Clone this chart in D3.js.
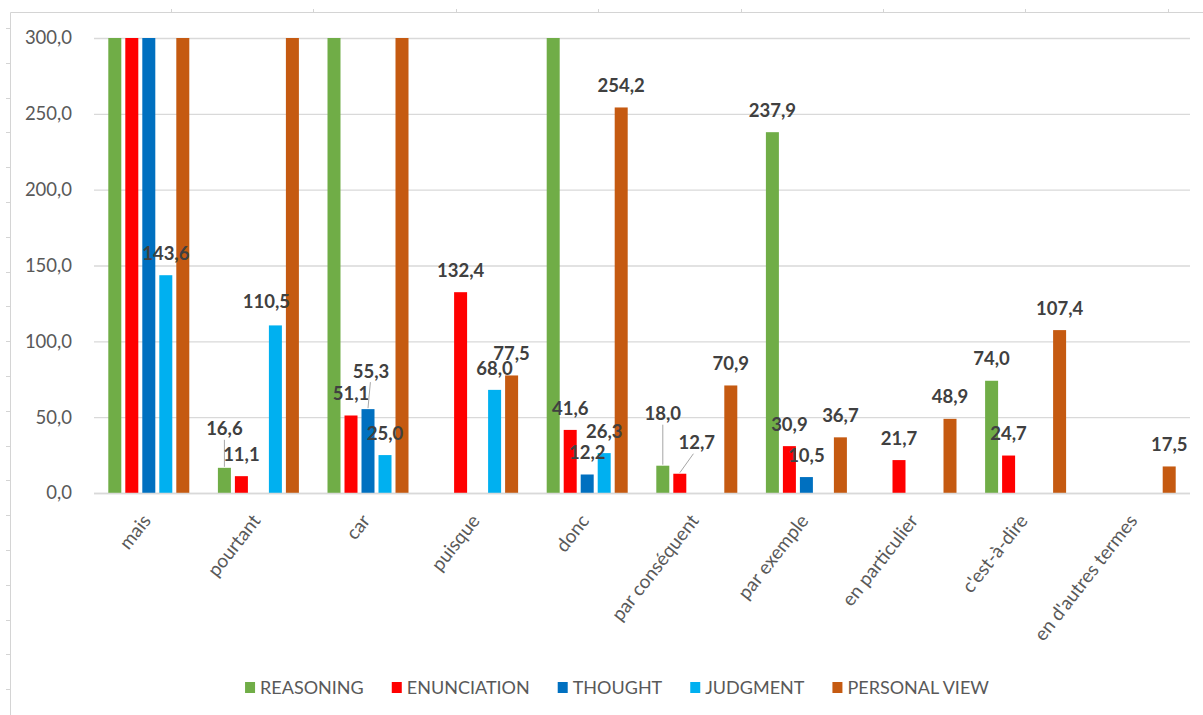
<!DOCTYPE html>
<html>
<head>
<meta charset="utf-8">
<script src="https://cdn.jsdelivr.net/npm/d3@7"></script>
<style>
  body { margin: 0; background: #fff; }
  svg { display: block; font-family: Lato, "Liberation Sans", sans-serif; }
</style>
</head>
<body>
<div id="chart"></div>
<script>
/*
** Data (values above the 300 axis maximum are shown clipped at 300)
*/
var categories = ["mais", "pourtant", "car", "puisque", "donc", "par conséquent",
                  "par exemple", "en particulier", "c'est-à-dire", "en d'autres termes"];
var seriesNames = ["REASONING", "ENUNCIATION", "THOUGHT", "JUDGMENT", "PERSONAL VIEW"];
var reasoning    = [300, 16.6, 300, null, 300, 18.0, 237.9, null, 74.0, null];
var enunciation  = [300, 11.1, 51.1, 132.4, 41.6, 12.7, 30.9, 21.7, 24.7, null];
var thought      = [300, null, 55.3, null, 12.2, null, 10.5, null, null, null];
var judgment     = [143.6, 110.5, 25.0, 68.0, 26.3, null, null, null, null, null];
var personalView = [300, 300, 300, 77.5, 254.2, 70.9, 36.7, 48.9, 107.4, 17.5];
var yTicks = [0, 50, 100, 150, 200, 250, 300];

/*
** Styles / layout
*/
var width = 1203
  , height = 715
  , colors = ["#70AD47", "#FF0000", "#0070C0", "#00B0F0", "#C55A11"]
  , barWidth = 13
  , yMax = 300
;
// labels that Excel moved away from their bar (drawn with a leader line)
var labelNudge = {
    "pourtant|REASONING": { dx: 0, dy: -17, leader: true },
    "pourtant|JUDGMENT": { dx: -9, dy: -2, leader: false },
    "car|THOUGHT": { dx: 3, dy: -16, leader: true },
    "par conséquent|REASONING": { dx: 0, dy: -30, leader: true },
    "par conséquent|ENUNCIATION": { dx: 17, dy: -9, leader: true }
};

var allValues = [reasoning, enunciation, thought, judgment, personalView];
var rows = [];
seriesNames.forEach(function(s, si) {
    categories.forEach(function(c, ci) {
        var v = allValues[si][ci];
        if (v === null) return;
        rows.push({ category: c, series: s, si: si, value: v });
    });
});

var locale = d3.formatLocale({ decimal: ",", thousands: " ", grouping: [3], currency: ["", " €"] });
var fmt = locale.format(".1f");

var svg = d3.select("#chart").append("svg")
    .attr("width", width)
    .attr("height", height)
;
svg.append("rect")
    .attr("width", width)
    .attr("height", height)
    .attr("fill", "#fff")
;

/*
** Ruler-like frame around the picture
*/
var frame = svg.append("g")
    .attr("stroke", "#d4d4d4")
    .attr("fill", "none")
;
frame.append("line")
    .attr("x1", 10.5).attr("x2", width)
    .attr("y1", 12.5).attr("y2", 12.5)
;
frame.append("line")
    .attr("x1", 10.5).attr("x2", 10.5)
    .attr("y1", 12.5).attr("y2", height)
;
frame.selectAll("line.top-tick")
    .data(d3.range(171, width, 142.4))
  .enter().append("line")
    .attr("class", "top-tick")
    .attr("x1", function(d) { return Math.round(d) + 0.5; })
    .attr("x2", function(d) { return Math.round(d) + 0.5; })
    .attr("y1", 9).attr("y2", 12.5)
;
frame.selectAll("line.left-tick")
    .data(d3.range(28, height, 34.8))
  .enter().append("line")
    .attr("class", "left-tick")
    .attr("x1", 6).attr("x2", 10.5)
    .attr("y1", function(d) { return Math.round(d) + 0.5; })
    .attr("y2", function(d) { return Math.round(d) + 0.5; })
;

/*
** Scales
*/
var x0 = d3.scaleBand()
    .domain(categories)
    .range([94, 1190])
;
var x1 = d3.scalePoint()
    .domain(seriesNames)
    .range([-34, 34])
;
var y = d3.scaleLinear()
    .domain([0, yMax])
    .range([493, 38])
;
function barCenter(d) {
    return x0(d.category) + x0.bandwidth() / 2 + x1(d.series);
}

/*
** Gridlines + y axis
*/
var yAxis = svg.append("g")
    .attr("transform", "translate(94,0)")
    .call(d3.axisLeft(y)
        .tickValues(yTicks)
        .tickSize(-(1190 - 94))
        .tickPadding(22)
        .tickFormat(fmt))
;
yAxis.select(".domain").remove();
yAxis.selectAll(".tick line")
    .attr("stroke", "#d9d9d9")
    .attr("stroke-width", 1.3)
;
yAxis.selectAll(".tick text")
    .attr("fill", "#595959")
    .style("font-size", "18.5px")
    .style("font-family", "Lato, sans-serif")
;

/*
** Bars
*/
svg.append("g").selectAll("rect")
    .data(rows)
  .enter().append("rect")
    .attr("x", function(d) { return barCenter(d) - barWidth / 2; })
    .attr("y", function(d) { return y(Math.min(d.value, yMax)); })
    .attr("width", barWidth)
    .attr("height", function(d) { return y(0) - y(Math.min(d.value, yMax)); })
    .attr("fill", function(d) { return colors[d.si]; })
;

/*
** Data labels (hidden for clipped values)
*/
var labelled = rows.filter(function(d) { return d.value < yMax; });
var labels = svg.append("g");
labelled.forEach(function(d) {
    var n = labelNudge[d.category + "|" + d.series] || { dx: 0, dy: 0, leader: false }
      , bx = barCenter(d)
      , by = y(d.value)
      , lx = bx + n.dx
      , ly = by - 22 + n.dy
    ;
    if (n.leader) {
        labels.append("line")
            .attr("x1", lx + (bx - lx) * 0.2)
            .attr("y1", ly + 11)
            .attr("x2", bx)
            .attr("y2", by - 1)
            .attr("stroke", "#a6a6a6")
            .attr("stroke-width", 1)
        ;
    }
    labels.append("text")
        .attr("x", lx)
        .attr("y", ly)
        .attr("dy", "0.36em")
        .attr("text-anchor", "middle")
        .attr("fill", "#404040")
        .style("font-size", "18.5px")
        .style("font-weight", "bold")
        .text(fmt(d.value))
    ;
});

/*
** Category axis
*/
svg.append("line")
    .attr("x1", 94).attr("x2", 1190)
    .attr("y1", y(0) + 0.5).attr("y2", y(0) + 0.5)
    .attr("stroke", "#d9d9d9")
    .attr("stroke-width", 1.3)
;
svg.append("g").selectAll("text")
    .data(categories)
  .enter().append("text")
    .attr("transform", function(c) {
        return "translate(" + (x0(c) + x0.bandwidth() / 2 + 3) + "," + 521 + ") rotate(-52)";
    })
    .attr("text-anchor", "end")
    .attr("fill", "#595959")
    .style("font-size", "19px")
    .text(function(c) { return c; })
;

/*
** Legend
*/
var legend = svg.append("g");
var items = legend.selectAll("g")
    .data(seriesNames)
  .enter().append("g")
;
items.append("rect")
    .attr("width", 10)
    .attr("height", 11)
    .attr("y", 682)
    .attr("fill", function(d, i) { return colors[i]; })
;
items.append("text")
    .attr("x", 15)
    .attr("y", 688)
    .attr("dy", "0.35em")
    .attr("fill", "#595959")
    .style("font-size", "18px")
    .text(function(d) { return d; })
;
var offsets = [], cursor = 0;
items.each(function() {
    var w = 15 + d3.select(this).select("text").node().getComputedTextLength();
    offsets.push(cursor);
    cursor += w + 28;
});
var legendWidth = cursor - 28
  , legendStart = 617 - legendWidth / 2
;
items.attr("transform", function(d, i) {
    return "translate(" + (legendStart + offsets[i]) + ",0)";
});
</script>
</body>
</html>
